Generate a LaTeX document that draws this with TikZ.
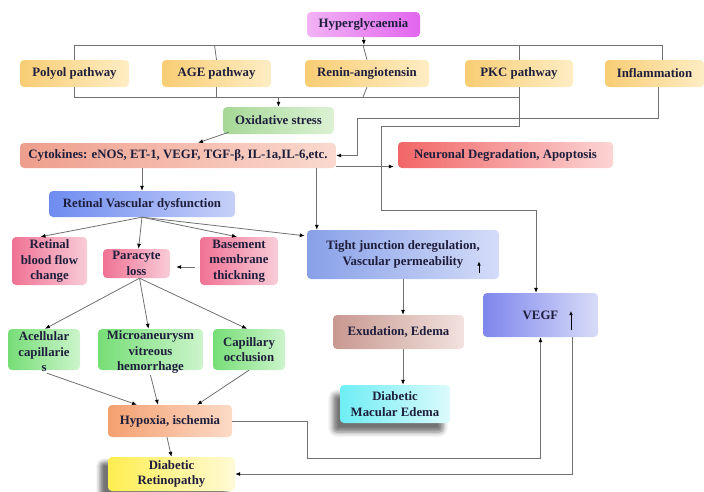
\documentclass[tikz,border=0pt]{standalone}
\usepackage{fontspec}
\setmainfont{Liberation Serif}
\usetikzlibrary{arrows.meta,shadows.blur,calc}
\definecolor{txt}{HTML}{1E1E3C}
\definecolor{lnc}{HTML}{707070}
\definecolor{hypL}{HTML}{F2B2F4}\definecolor{hypR}{HTML}{E266EE}
\definecolor{orL}{HTML}{F8CD74}\definecolor{orR}{HTML}{FEEDC4}
\definecolor{grL}{HTML}{A6D896}\definecolor{grR}{HTML}{DCF2D4}
\definecolor{cyL}{HTML}{EE9E8C}\definecolor{cyR}{HTML}{FAD9CE}
\definecolor{neL}{HTML}{F26666}\definecolor{neR}{HTML}{FCD4D4}
\definecolor{rvL}{HTML}{6E8CF0}\definecolor{rvR}{HTML}{C6D0F8}
\definecolor{pkL}{HTML}{F07294}\definecolor{pkR}{HTML}{F9CCD8}
\definecolor{tjL}{HTML}{88A0E8}\definecolor{tjR}{HTML}{D4DCF8}
\definecolor{veL}{HTML}{7E86EC}\definecolor{veR}{HTML}{D8DCF8}
\definecolor{exL}{HTML}{C89890}\definecolor{exR}{HTML}{F2E2DE}
\definecolor{dmL}{HTML}{6EEEF4}\definecolor{dmR}{HTML}{DCFAFC}
\definecolor{lgL}{HTML}{76DE76}\definecolor{lgR}{HTML}{CCF4CC}
\definecolor{hxL}{HTML}{F4A070}\definecolor{hxR}{HTML}{FCDAC6}
\definecolor{drL}{HTML}{FFEE50}\definecolor{drR}{HTML}{FFFAD6}
\tikzset{
  txtfont/.style={font=\fontsize{12.8}{15.5}\selectfont\bfseries, text=txt},
  box/.style={rounded corners=4pt, inner sep=1pt, align=center, txtfont},
  bx/.style 2 args={box, left color=#1, right color=#2},
  sz/.style 2 args={minimum width=#1, minimum height=#2},
  plaintext/.style={align=center, inner sep=0pt, txtfont},
  conn/.style={draw=lnc, line width=0.8pt},
  arr/.style={conn, -{Latex[length=5pt,width=4pt,color=black]}},
  uparr/.style={draw=black, line width=0.7pt, -{Latex[length=4pt,width=3.5pt,color=black]}},
  shad/.style={blur shadow={shadow xshift=#1, shadow yshift=-9pt, shadow blur radius=5pt, shadow opacity=55}},
}
\begin{document}
\begin{tikzpicture}[x=1pt,y=-1pt]
\useasboundingbox (0,0) rectangle (704,491);
% nodes
\node[bx={hypL}{hypR}, sz={113}{25}] (hyp) at (363.5,24.5) {Hyperglycaemia};
\node[bx={orL}{orR}, sz={109}{27}] (polyol) at (74.5,73.5) {Polyol pathway};
\node[bx={orL}{orR}, sz={109}{27}] (age) at (216.5,73.5) {AGE pathway};
\node[bx={orL}{orR}, sz={124}{27}] (renin) at (367,73.5) {Renin-angiotensin};
\node[bx={orL}{orR}, sz={108}{27}] (pkc) at (519,73.5) {PKC pathway};
\node[bx={orL}{orR}, sz={99}{27}] (infl) at (654.5,73.5) {Inflammation};
\node[bx={grL}{grR}, sz={111}{27}] (oxi) at (278.5,120.5) {Oxidative stress};
\node[bx={cyL}{cyR}, sz={316}{25}] (cyt) at (178,155.5) {Cytokines: eNOS, ET-1, VEGF, TGF-β, IL-1a,IL-6,etc.};
\node[bx={neL}{neR}, sz={215}{26}] (neu) at (505.5,155) {Neuronal Degradation, Apoptosis};
\node[bx={rvL}{rvR}, sz={186}{26}] (rvd) at (142,204) {Retinal Vascular dysfunction};
\node[bx={pkL}{pkR}, sz={75}{48}] (rbf) at (49.5,261) {Retinal\\blood flow\\change};
\node[bx={pkL}{pkR}, sz={67}{29}] (par) at (136.5,263.5) {Paracyte\\loss};
\node[bx={pkL}{pkR}, sz={78}{48}] (bmt) at (239,261) {Basement\\membrane\\thickning};
\node[bx={tjL}{tjR}, sz={192}{49}] (tj) at (403,254.5) {Tight junction deregulation,\\Vascular permeability};
\node[bx={veL}{veR}, sz={115}{44}] (vegf) at (540.5,315) {VEGF};
\node[bx={exL}{exR}, sz={131}{34}] (exu) at (398.5,332) {Exudation, Edema};
\node[bx={dmL}{dmR}, sz={110}{38}, shad=-7pt] (dme) at (395,404) {Diabetic\\Macular Edema};
\node[bx={lgL}{lgR}, sz={72}{41}] (ace) at (44,349.5) {};
\node[plaintext] (acet) at (44,352) {Acellular\\capillarie\\s};
\node[bx={lgL}{lgR}, sz={105}{41}] (mic) at (150.5,349.5) {};
\node[plaintext] (mict) at (150.5,352) {Microaneurysm\\vitreous\\hemorrhage};
\node[bx={lgL}{lgR}, sz={72}{41}] (cap) at (249,349.5) {Capillary\\occlusion};
\node[bx={hxL}{hxR}, sz={124}{32}] (hyx) at (170,421) {Hypoxia, ischemia};
\node[bx={drL}{drR}, sz={127}{34}, blur shadow={shadow xshift=-8pt, shadow yshift=-5pt, shadow blur radius=4pt, shadow opacity=55}] (dr) at (171.5,474) {Diabetic\\Retinopathy};
% top distribution
\coordinate (topbar) at (364,45);
\coordinate (infltop) at (662,60);
\draw[arr] (hyp.south) -- (topbar);
\draw[conn] (polyol.north) -- (polyol.north |- topbar) -- (infltop |- topbar) -- (infltop);
\draw[conn] ($(age.north |- topbar)+(-2,0)$) -- (age.north);
\draw[conn] ($(renin.north |- topbar)+(-4,0)$) -- (renin.north);
\draw[conn] (pkc.north |- topbar) -- (pkc.north);
% bottom collection
\coordinate (botbar) at (278.5,97);
\draw[conn] (polyol.south) -- (polyol.south |- botbar) -- (pkc.south |- botbar);
\draw[conn] (age.south) -- (age.south |- botbar);
\draw[conn] (renin.south) -- ($(renin.south |- botbar)+(-4,0)$);
\draw[arr] (botbar) -- (oxi.north);
\draw[arr] ($(oxi.south west)+(6,-2)$) -- ($(cyt.north)+(20,0)$);
% PKC -> VEGF
\coordinate (pkbend) at (381,126);
\coordinate (pkturn) at (536,210);
\draw[arr] (pkc.south) |- (pkbend) |- (pkturn) -- (pkturn |- vegf.north);
% Inflammation -> Cytokines
\coordinate (inbend) at (357,118);
\draw[arr] ([xshift=3.5]infl.south) |- (inbend) |- (cyt.east);
% cytokines outputs
\draw[arr] ([yshift=-11]cyt.east) -- ([yshift=-11,xshift=-4]cyt.east -| neu.west);
\draw[arr] (rvd.north |- cyt.south) -- (rvd.north);
\coordinate (tjn) at ($(tj.north west)+(10,0)$);
\draw[arr] (cyt.south -| tjn) -- (tjn);
% RVD fan
\draw[arr] (rvd.south) -- ($(rbf.north)+(-9,0)$);
\draw[arr] (rvd.south) -- ($(par.north)+(2,0)$);
\draw[arr] (rvd.south) -- ($(bmt.north)+(-2,0)$);
\draw[arr] (rvd.south) -- ($(tj.north west)+(-2,6)$);
\draw[arr] ([xshift=-5,yshift=-3.5]bmt.west |- par.east) -- ([xshift=6,yshift=-3.5]par.east);
% paracyte fan
\draw[arr] ($(par.south)+(3,0)$) -- ($(ace.north)+(1,0)$);
\draw[arr] ($(par.south)+(3,0)$) -- ($(mic.north)+(-2,0)$);
\draw[arr] ($(par.south)+(3,0)$) -- ($(cap.north)+(-2,0)$);
% into hypoxia
\draw[arr] ($(ace.south)+(3,3)$) -- ($(hyx.north)+(-33,0)$);
\draw[arr] ($(mic.south)+(0,5)$) -- ($(hyx.north)+(-12,0)$);
\draw[arr] (cap.south) -- ($(hyx.north)+(27,0)$);
\draw[arr] ($(hyx.south)+(-3,0)$) -- (dr.north);
% hypoxia -> VEGF
\coordinate (hxbend) at (307,458);
\draw[arr] (hyx.east) -| (hxbend) -| (vegf.south);
% VEGF -> DR
\draw[arr] ([xshift=31.5]vegf.south) |- (dr.east);
% tight junction chain
\draw[arr] (tj.south) -- (tj.south |- exu.north);
\draw[arr] (tj.south |- exu.south) -- (tj.south |- dme.north);
% small up arrows
\draw[uparr] ($(tj.center)+(76,18)$) -- ++(0,-11);
\draw[uparr] ($(vegf.center)+(30.5,15)$) -- ++(0,-19);
\end{tikzpicture}
\end{document}
